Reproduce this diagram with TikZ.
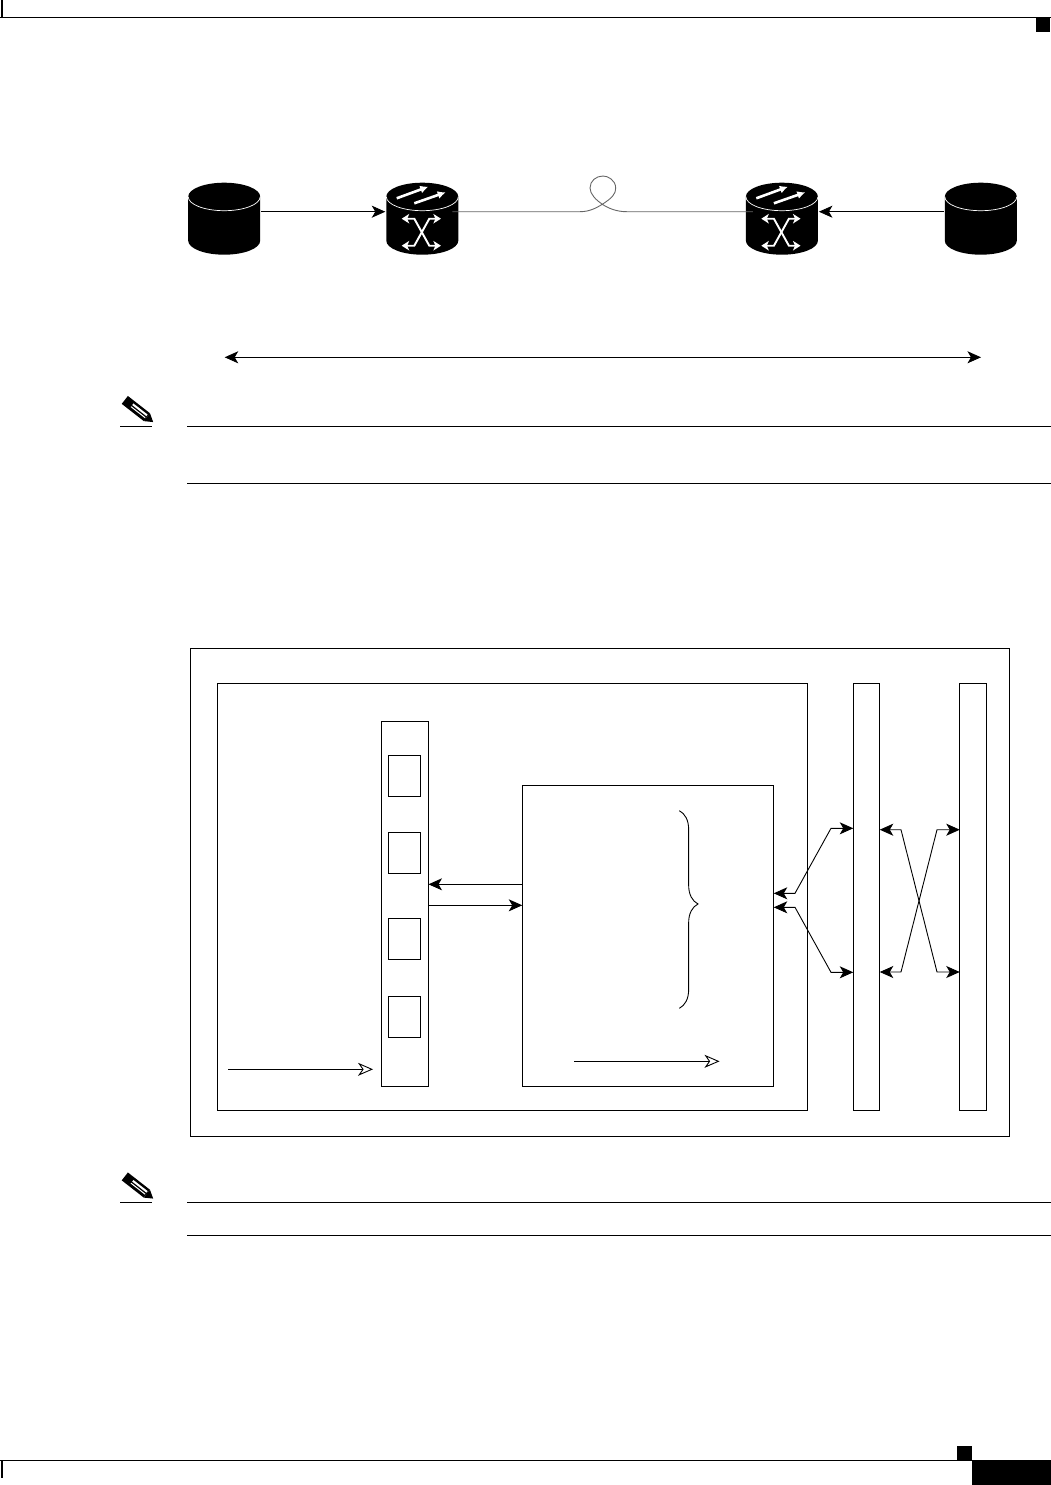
\documentclass[tikz,border=0pt]{standalone}
\usetikzlibrary{arrows.meta, positioning, calc, decorations.pathreplacing}

\begin{document}
\begin{tikzpicture}[
    x = 1pt, y = -1pt,
    line width = 0.9pt,
    > = {Stealth[length=13.5pt, width=12pt, inset=3.5pt]},
    panel/.style  = {draw, rectangle, inner sep=0pt, outer sep=0pt},
    framebox/.style = {panel, minimum width=819pt, minimum height=488pt},
    linecard/.style = {panel, minimum width=589.5pt, minimum height=426.5pt},
    fabric/.style = {panel, minimum width=26.5pt, minimum height=426.5pt},
    rack/.style   = {panel, minimum width=47pt, minimum height=365.5pt},
    slotbox/.style = {panel, minimum width=32.5pt, minimum height=41.5pt},
    procbox/.style = {panel, minimum width=251.5pt, minimum height=301pt},
    drum/.style   = {rectangle, inner sep=0pt, outer sep=0pt, minimum width=72pt, minimum height=72pt},
    flow/.style   = {->},
    dualflow/.style = {<->},
    signal/.style = {-{Stealth[open, length=15pt, width=13pt, inset=4.5pt, fill=white]}},
    fibre/.style  = {draw=black!60},
    iconarrow/.style = {draw=white, line width=2.6pt, -{Latex[length=8pt, width=8pt]}},
    iconcross/.style = {draw=white, line width=1.9pt,
                        {Stealth[length=7.5pt, width=9.5pt, inset=2pt]}-{Stealth[length=7.5pt, width=9.5pt, inset=2pt]}},
    rule/.style   = {line width=1pt},
]

\useasboundingbox (0,0) rectangle (1051,1485);

% ---------------------------------------------- page marks ----------------------------------------
\coordinate (headL) at (0,17.3);
\coordinate (headR) at (1051,17.3);
\coordinate (footL) at (0,1460.5);
\coordinate (footR) at (972,1460.5);
\draw[line width=1.5pt] (headL) -- (headR);
\draw[line width=1.5pt] (footL) -- (footR);
\draw[line width=1.8pt] (2,0) -- (2,17.3);
\draw[line width=1.8pt] (2,1460.5) -- (2,1478);
\fill (1036,17.5) rectangle (1050,32);
\fill (957,1446) rectangle (972,1460.5);
\fill (972,1460) rectangle (1051,1485);

% ---------------------------------------------- top row -------------------------------------------
\node[drum] (srcL)    at (224.2,218.7) {};
\node[drum] (routerL) at (422.3,218.7) {};
\node[drum] (routerR) at (781.9,218.7) {};
\node[drum] (srcR)    at (980.8,218.7) {};

\foreach \d in {srcL, routerL, routerR, srcR} {
    \begin{scope}[shift={(\d.center)}]
        \fill (-36,-22) arc[start angle=180, end angle=0, x radius=36pt, y radius=14pt]
            -- (36,22) arc[start angle=0, end angle=-180, x radius=36pt, y radius=14pt] -- cycle;
        \draw[white, line width=0.7pt] (-36,-22) arc[start angle=180, end angle=360, x radius=36pt, y radius=14pt];
    \end{scope}
}

\foreach \r in {routerL, routerR} {
    \begin{scope}[shift={(\r.center)}]
        \draw[iconarrow] (-25.6,-20.4) -- (6,-32);
        \draw[iconarrow] (-8,-15.4) -- (23.4,-26.4);
        \draw[iconcross] (-20.6,0) -- (-8,0) -- (7,27) -- (18.6,27);
        \draw[iconcross] (-20.6,27) -- (-8,27) -- (7,0) -- (18.6,0);
    \end{scope}
}

\coordinate (trunk) at (0,211.7);
\draw[flow] ([xshift=1pt]srcL.east |- trunk) -- ([xshift=-1pt]routerL.west |- trunk);
\draw[flow] ([xshift=-1pt]srcR.west |- trunk) -- ([xshift=1pt]routerR.east |- trunk);
\draw[fibre] ([xshift=-6pt]routerL.east |- trunk) -- (580,211.7)
    .. controls (590,211.7) and (597,207.5) .. (602.3,204.3)
    .. controls (612,198) and (615.8,194) .. (615.7,188)
    .. controls (615.5,180) and (608,176) .. (603,176)
    .. controls (596,176) and (590,181) .. (590,188)
    .. controls (590,194) and (596,200) .. (602.3,204.3)
    .. controls (608,208) and (616,211.7) .. (626.7,211.7)
    -- ([xshift=7pt]routerR.west |- trunk);

\coordinate (spanL) at (224.7,357.3);
\coordinate (spanR) at (981,357.3);
\draw[dualflow] (spanL) -- (spanR);

% ---------------------------------------------- notes ---------------------------------------------
\foreach \ny/\rulea/\ruleb in {411/426.5/483.5, 1187.5/1202.5/1235.5} {
    \begin{scope}[shift={(139,\ny)}, rotate=-38]
        \fill (-18,-5) rectangle (10,5);
        \fill (10,-5) -- (18,0) -- (10,5) -- cycle;
        \fill[white] (-9,-2.5) rectangle (9,-0.5);
        \fill[white] (-9,1) rectangle (9,2);
    \end{scope}
    \draw[rule] (120,\rulea) -- (152,\rulea);
    \draw[rule] (187,\rulea) -- (1051,\rulea);
    \draw[rule] (187,\ruleb) -- (1051,\ruleb);
}

% ---------------------------------------------- chassis -------------------------------------------
\node[framebox] (chassis) at (600,892.2) {};
\node[linecard] (card)    at (512.2,896.8) {};
\node[fabric]   (fabA)    at (866.5,896.8) {};
\node[fabric]   (fabB)    at (973,896.8) {};
\node[rack]     (ports)   at (405,904) {};
\node[procbox]  (proc)    at (648,935.8) {};

\node[slotbox] (slotA) at (404.5,776) {};
\node[slotbox] (slotB) at (404.5,853) {};
\node[slotbox] (slotC) at (404.5,939) {};
\node[slotbox] (slotD) at (404.5,1017) {};

% ---------------------------------------------- arrows --------------------------------------------
\coordinate (rx) at (0,884.3);
\coordinate (tx) at (0,905.3);
\draw[flow] (proc.west |- rx) -- (ports.east |- rx);
\draw[flow] (ports.east |- tx) -- (proc.west |- tx);

\coordinate (hollowA) at (228,1069.3);
\coordinate (hollowB) at (373,1069.3);
\coordinate (hollowC) at (574,1061.3);
\coordinate (hollowD) at (719.5,1061.3);
\draw[signal] (hollowA) -- (hollowB);
\draw[signal] (hollowC) -- (hollowD);

\coordinate (braceT) at (679.3,1008.3);
\coordinate (braceB) at (679.3,810.7);
\draw[decorate, decoration={brace, amplitude=18.7pt, aspect=0.472}] (braceB) -- (braceT);

\coordinate (linkA) at (0,893.3);
\coordinate (linkB) at (0,907.3);
\coordinate (linkC) at (0,828.3);
\coordinate (linkD) at (0,972.3);
\draw[dualflow] (proc.east |- linkA) -- (795,893.3) -- (831,828.3) -- (fabA.west |- linkC);
\draw[dualflow] (proc.east |- linkB) -- (795,907.3) -- (831,972.3) -- (fabA.west |- linkD);

\coordinate (crossT) at (0,829.7);
\coordinate (crossB) at (0,972);
\draw[dualflow] (fabA.east |- crossT) -- (901,829.7) -- (937,972) -- (fabB.west |- crossB);
\draw[dualflow] (fabA.east |- crossB) -- (901,972) -- (937,829.7) -- (fabB.west |- crossT);

\end{tikzpicture}
\end{document}
